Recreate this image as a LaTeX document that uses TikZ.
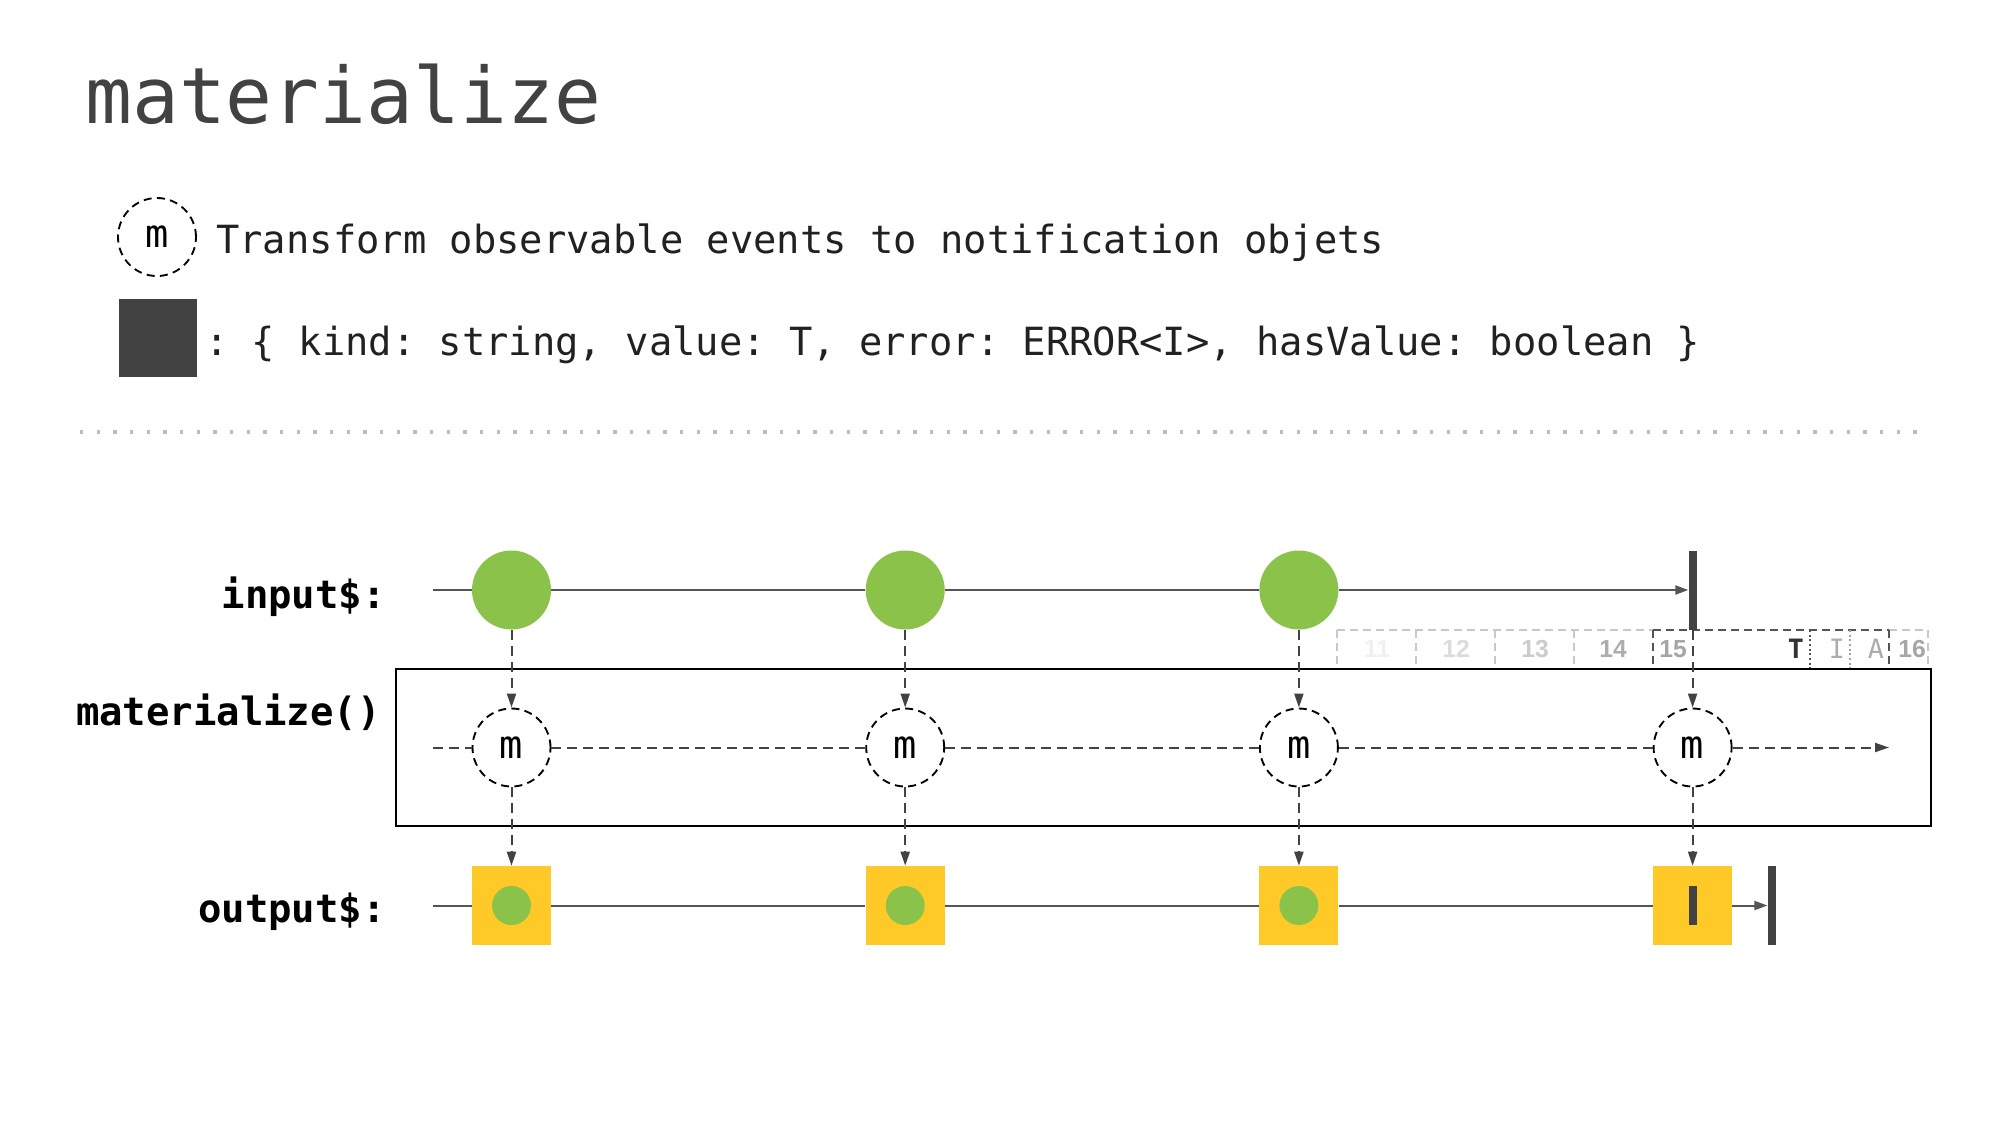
\documentclass[tikz,border=0pt]{standalone}
\usepackage{fontspec}
\setmonofont{DejaVu Sans Mono}
\newfontfamily\numfont{Liberation Sans}
\usetikzlibrary{arrows.meta}

\definecolor{marbleGreen}{HTML}{8BC34A}
\definecolor{marbleYellow}{HTML}{FFCA28}
\definecolor{inkGrey}{HTML}{424242}
\definecolor{lineGrey}{HTML}{555555}
\definecolor{dotGrey}{HTML}{BDBDBD}
\definecolor{cellGrey}{HTML}{C8C8C8}

\tikzset{
  marble/.style={circle, fill=marbleGreen, minimum size=59.25pt, inner sep=0pt},
  opcircle/.style={circle, draw=black, line width=1.4pt, dash pattern=on 6pt off 4pt, minimum size=58.5pt, inner sep=0pt, font=\ttfamily\fontsize{29}{30}\selectfont},
  notebox/.style={rectangle, fill=marbleYellow, minimum size=59.25pt, inner sep=0pt},
  notedot/.style={circle, fill=marbleGreen, minimum size=29.25pt, inner sep=0pt},
  endbar/.style={rectangle, fill=inkGrey, minimum width=6pt, minimum height=59.25pt, inner sep=0pt},
  timeline/.style={draw=lineGrey, line width=1.5pt},
  dashline/.style={draw=inkGrey, line width=1.5pt, dash pattern=on 7.5pt off 4.5pt},
  flowarrow/.style={dashline, -{Triangle[length=10.5pt,width=6.75pt]}},
  rowlabel/.style={anchor=base east, inner sep=0pt, font=\ttfamily\bfseries\fontsize{29.2}{30}\selectfont},
  legendtext/.style={anchor=base west, inner sep=0pt, text=black!87, font=\ttfamily\fontsize{29.1}{30}\selectfont},
  cellline/.style={draw=cellGrey, line width=1.1pt, dash pattern=on 6pt off 3.75pt},
  celltext/.style={inner sep=0pt, font=\numfont\bfseries\fontsize{18.5}{20}\selectfont},
  celltype/.style={inner sep=0pt, font=\ttfamily\fontsize{20}{20}\selectfont},
}

\begin{document}
\begin{tikzpicture}[x=0.75pt,y=0.75pt,yscale=-1,xscale=1]
\useasboundingbox (0,0) rectangle (2000,1125);

% title and legend
\node[anchor=base west, inner sep=0pt, text=inkGrey, font=\ttfamily\fontsize{58.4}{60}\selectfont] (title) at (85,123) {materialize};
\node[opcircle] (legm) at (157,237) {m};
\node[legendtext] (legtext) at (216,253) {Transform observable events to notification objets};
\node[rectangle, fill=inkGrey, minimum size=58.5pt, inner sep=0pt] (legbox) at (158,338) {};
\node[legendtext] (legtype) at (205,355) {: \{ kind: string, value: T, error: ERROR<I>, hasValue: boolean \}};

% separator
\draw[dotGrey, line width=2.5pt, dash pattern=on 2.5pt off 10pt] (80,432) -- (1930,432);

% row labels
\node[rowlabel] (inlabel) at (386,608) {input\$:};
\node[rowlabel] (oplabel) at (381,725) {materialize()};
\node[rowlabel] (outlabel) at (386,922) {output\$:};

% ghost strip
\draw[cellline] (1337,630) -- (1653,630);
\draw[cellline, draw=lineGrey] (1653,630) -- (1889,630);
\draw[cellline] (1889,630) -- (1928,630);
\foreach \x in {1337,1416,1495,1574,1928}
  \draw[cellline] (\x,630) -- (\x,668);
\draw[cellline, draw=lineGrey] (1653,630) -- (1653,668);
\draw[cellline, draw=lineGrey] (1889,630) -- (1889,668);
\draw[lineGrey, line width=1.1pt, dash pattern=on 1.5pt off 2pt] (1810,630) -- (1810,668);
\draw[cellGrey!80!black, line width=1.1pt, dash pattern=on 1.5pt off 2pt] (1850,630) -- (1850,668);
\node[celltext, text=black!6] (n11) at (1377,649) {11};
\node[celltext, text=black!14] (n12) at (1456,649) {12};
\node[celltext, text=black!20] (n13) at (1535,649) {13};
\node[celltext, text=black!32] (n14) at (1613,649) {14};
\node[celltext, text=black!35] (n15) at (1673,649) {15};
\node[celltype, font=\ttfamily\bfseries\fontsize{20}{20}\selectfont, text=black!80] (nT) at (1796,649) {T};
\node[celltype, text=black!32] (nI) at (1837,649) {I};
\node[celltype, text=black!33] (nA) at (1876,649) {A};
\node[celltext, text=black!35] (n16) at (1912,649) {16};

% operator frame
\draw[black, line width=1.5pt] (396,669) rectangle (1931,826);

% input$
\coordinate (instart) at (433,590);
\node[marble] (i1) at (511.5,590) {};
\node[marble] (i2) at (905.2,590) {};
\node[marble] (i3) at (1298.9,590) {};
\node[endbar] (iend) at (1692.6,590) {};
\draw[timeline] (instart) -- (i1);
\draw[timeline] (i1) -- (i2);
\draw[timeline] (i2) -- (i3);
\draw[timeline, -{Triangle[length=9.75pt,width=6.75pt]}] (i3) -- (iend);

% materialize()
\coordinate (opstart) at (433,747.5);
\coordinate (opend) at (1889,747.5);
\node[opcircle] (m1) at (511.5,747.5) {m};
\node[opcircle] (m2) at (905.2,747.5) {m};
\node[opcircle] (m3) at (1298.9,747.5) {m};
\node[opcircle] (m4) at (1692.6,747.5) {m};
\draw[dashline] (opstart) -- (m1);
\draw[dashline] (m1) -- (m2);
\draw[dashline] (m2) -- (m3);
\draw[dashline] (m3) -- (m4);
\draw[flowarrow] (m4) -- (opend);

% output$
\coordinate (outstart) at (433,905.5);
\node[notebox] (o1) at (511.5,905.5) {};
\node[notebox] (o2) at (905.2,905.5) {};
\node[notebox] (o3) at (1298.9,905.5) {};
\node[notebox] (o4) at (1692.6,905.5) {};
\node[notedot] (o1dot) at (o1) {};
\node[notedot] (o2dot) at (o2) {};
\node[notedot] (o3dot) at (o3) {};
\node[endbar, minimum height=29.25pt] (o4bar) at (o4) {};
\node[endbar] (oend) at (1771.7,905.5) {};
\draw[timeline] (outstart) -- (o1);
\draw[timeline] (o1) -- (o2);
\draw[timeline] (o2) -- (o3);
\draw[timeline] (o3) -- (o4);
\draw[timeline, -{Triangle[length=9.75pt,width=6.75pt]}] (o4) -- (oend);

% vertical flow
\draw[flowarrow] (i1) -- (m1);
\draw[flowarrow] (i2) -- (m2);
\draw[flowarrow] (i3) -- (m3);
\draw[flowarrow] (iend) -- (m4);
\draw[flowarrow] (m1) -- (o1);
\draw[flowarrow] (m2) -- (o2);
\draw[flowarrow] (m3) -- (o3);
\draw[flowarrow] (m4) -- (o4);

\end{tikzpicture}
\end{document}
